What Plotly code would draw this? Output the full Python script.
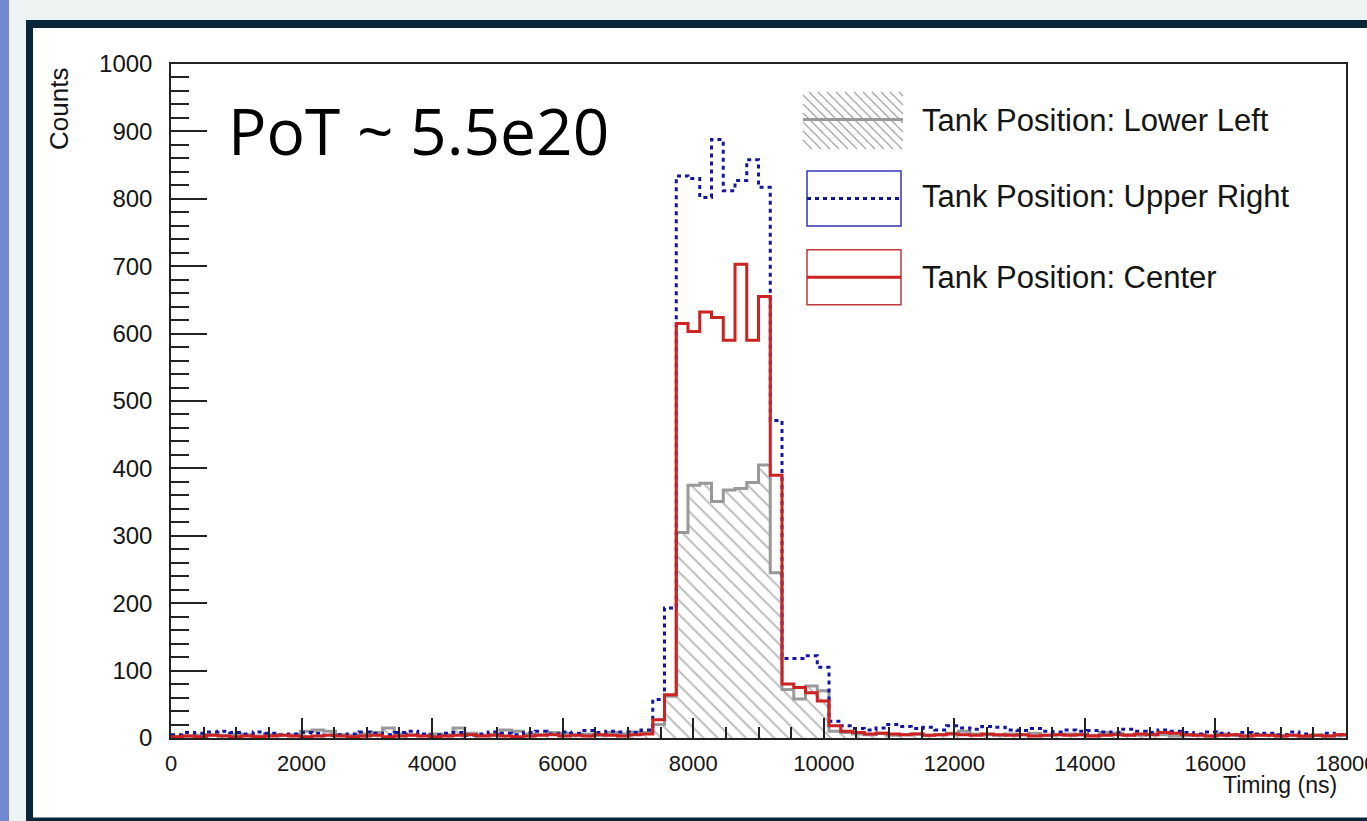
import plotly.graph_objects as go

# ---------------- data ----------------
BIN_WIDTH = 180
N_BINS = 100
bin_edges = [i * BIN_WIDTH for i in range(N_BINS + 1)]
bin_centers = [e + BIN_WIDTH / 2 for e in bin_edges[:-1]]

lower_left = [
    2, 3, 4, 5, 4, 6, 5, 3, 5, 4,
    5, 10, 12, 10, 5, 4, 6, 8, 15, 6,
    5, 4, 6, 5, 15, 7, 4, 5, 12, 10,
    6, 5, 8, 7, 5, 6, 4, 8, 6, 9,
    8, 20, 62,
    305, 375, 378, 351, 368, 370, 379, 405, 245,
    72, 58, 77, 70,
    10, 8, 6, 5, 7, 4, 5, 6, 4, 5,
    7, 10, 6, 5, 4, 6, 5, 7, 4, 5,
    6, 5, 4, 8, 7, 5, 4, 6, 5, 3,
    4, 5, 3, 6, 4, 3, 5, 4, 3, 4, 2, 4, 3, 4,
]
upper_right = [
    5, 8, 7, 9, 10, 8, 6, 9, 7, 5,
    6, 8, 7, 4, 5, 6, 9, 7, 5, 8,
    10, 6, 5, 7, 8, 4, 6, 9, 7, 5,
    8, 10, 6, 9, 7, 11, 8, 10, 9, 8,
    12, 57, 193,
    834, 830, 802, 888, 812, 827, 858, 817, 471,
    118, 118, 122, 105,
    25, 18, 14, 12, 15, 20, 17, 14, 16, 12,
    18, 15, 13, 17, 16, 12, 11, 14, 10, 9,
    12, 10, 11, 9, 8, 13, 10, 8, 12, 10,
    8, 6, 9, 7, 5, 8, 6, 7, 5, 9, 6, 4, 7, 5,
]
center = [
    2, 3, 2, 4, 3, 2, 3, 2, 3, 4,
    3, 2, 3, 4, 3, 2, 3, 4, 2, 3,
    4, 3, 2, 3, 4, 5, 3, 4, 3, 2,
    3, 4, 5, 3, 4, 3, 5, 4, 3, 5,
    6, 27, 64,
    615, 603, 632, 624, 590, 703, 590, 655, 390,
    80, 75, 67, 55,
    18, 10, 8, 6, 7, 6, 5, 6, 4, 5,
    6, 5, 4, 6, 5, 4, 5, 3, 4, 5,
    4, 5, 3, 4, 5, 4, 6, 5, 8, 7,
    5, 4, 3, 4, 5, 3, 4, 4, 3, 4, 3, 4, 3, 5,
]

series_names = ["Tank Position: Lower Left", "Tank Position: Upper Right", "Tank Position: Center"]
x_tick_vals = [0, 2000, 4000, 6000, 8000, 10000, 12000, 14000, 16000, 18000]
y_tick_vals = [0, 100, 200, 300, 400, 500, 600, 700, 800, 900, 1000]
annotation_text = "PoT ~ 5.5e20"
x_title = "Timing (ns)"
y_title = "Counts"

# ---------------- geometry ----------------
W, H = 1367, 821
L, R, T, B = 171, 21, 64, 82.5
PW, PH = W - L - R, H - T - B


def px(x):
    return (x - L) / PW


def py(y):
    return (H - B - y) / PH


GRAY_LINE = "#999999"
BLUE = "#1414a0"
RED = "#cc2222"
TXT = "#151515"

fig = go.Figure()

# hatched fill for lower-left
fig.add_trace(go.Bar(
    x=bin_centers, y=lower_left, width=BIN_WIDTH,
    marker=dict(color="rgba(255,255,255,0)", line=dict(width=0),
                pattern=dict(shape="\\", fgcolor="#7a7a7a", size=10, solidity=0.2)),
    showlegend=False, hoverinfo="skip",
))


def step(vals):
    return list(vals) + [vals[-1]]


fig.add_trace(go.Scatter(x=bin_edges, y=step(lower_left), mode="lines", line_shape="hv",
                         line=dict(color=GRAY_LINE, width=3), name=series_names[0], showlegend=False))
fig.add_trace(go.Scatter(x=bin_edges, y=step(upper_right), mode="lines", line_shape="hv",
                         line=dict(color=BLUE, width=3, dash="4px,4px"), name=series_names[1], showlegend=False))
fig.add_trace(go.Scatter(x=bin_edges, y=step(center), mode="lines", line_shape="hv",
                         line=dict(color=RED, width=3), name=series_names[2], showlegend=False))

shapes = []
# slide background decorations
shapes.append(dict(type="rect", xref="paper", yref="paper", x0=px(0), x1=px(9), y0=py(830), y1=py(-10),
                   fillcolor="#7189d3", line=dict(width=0), layer="below"))
shapes.append(dict(type="rect", xref="paper", yref="paper", x0=px(26), x1=px(1400), y0=py(830), y1=py(20),
                   fillcolor="#0a2739", line=dict(width=0), layer="below"))
shapes.append(dict(type="rect", xref="paper", yref="paper", x0=px(33), x1=px(1400), y0=py(818), y1=py(28),
                   fillcolor="white", line=dict(width=0), layer="below"))

# legend symbol: hatched box
hx0, hx1, hy0, hy1 = 803, 903, 92, 149
hatch_path = ""
c = -(hy1 - hy0)
while c < (hx1 - hx0):
    ya, yb = hy0, hy1
    xa, xb = hx0 + c, hx0 + c + (hy1 - hy0)
    if xa < hx0:
        ya = ya + (hx0 - xa)
        xa = hx0
    if xb > hx1:
        yb = yb - (xb - hx1)
        xb = hx1
    hatch_path += f"M{px(xa)},{py(ya)} L{px(xb)},{py(yb)} "
    c += 9
shapes.append(dict(type="path", xref="paper", yref="paper", path=hatch_path,
                   line=dict(color="#a8a8a8", width=1.3)))
shapes.append(dict(type="line", xref="paper", yref="paper", x0=px(803), x1=px(903), y0=py(119.5), y1=py(119.5),
                   line=dict(color=GRAY_LINE, width=3)))
# blue box
shapes.append(dict(type="rect", xref="paper", yref="paper", x0=px(807), x1=px(901), y0=py(226), y1=py(171),
                   line=dict(color="#3535b5", width=1.5)))
shapes.append(dict(type="line", xref="paper", yref="paper", x0=px(807), x1=px(901), y0=py(198.5), y1=py(198.5),
                   line=dict(color=BLUE, width=3, dash="4px,4px")))
# red box
shapes.append(dict(type="rect", xref="paper", yref="paper", x0=px(807), x1=px(901), y0=py(305), y1=py(250),
                   line=dict(color="#c03838", width=1.5)))
shapes.append(dict(type="line", xref="paper", yref="paper", x0=px(807), x1=px(901), y0=py(277.5), y1=py(277.5),
                   line=dict(color=RED, width=3)))

annotations = []
for name, yc in zip(series_names, [121, 197, 278]):
    annotations.append(dict(xref="paper", yref="paper", x=px(920), y=py(yc), text=name, showarrow=False,
                            xanchor="left", yanchor="middle",
                            font=dict(family="Liberation Sans, Arial", size=31, color=TXT)))
annotations.append(dict(xref="paper", yref="paper", x=px(226), y=py(131), text=annotation_text, showarrow=False,
                        xanchor="left", yanchor="middle",
                        font=dict(family="Open Sans", size=64, color="black")))
annotations.append(dict(xref="paper", yref="paper", x=px(59), y=py(66), text=y_title, showarrow=False,
                        textangle=-90, xanchor="center", yanchor="top",
                        font=dict(family="Liberation Sans, Arial", size=26, color=TXT)))
annotations.append(dict(xref="paper", yref="paper", x=px(1339), y=py(786), text=x_title, showarrow=False,
                        xanchor="right", yanchor="middle",
                        font=dict(family="Liberation Sans, Arial", size=23, color=TXT)))

fig.update_layout(
    width=W, height=H,
    margin=dict(l=L, r=R, t=T, b=B, pad=0, autoexpand=False),
    paper_bgcolor="#edf3f3",
    plot_bgcolor="white",
    bargap=0,
    showlegend=False,
    shapes=shapes,
    annotations=annotations,
    xaxis=dict(range=[0, 18000], tickvals=x_tick_vals, ticktext=[str(v) for v in x_tick_vals],
               ticks="inside", ticklen=20, tickwidth=1.5, tickcolor="#222",
               minor=dict(dtick=500, ticks="inside", ticklen=11, tickwidth=1.5, tickcolor="#222"),
               showline=True, linecolor="#222", linewidth=1.5, mirror=True, showgrid=False, zeroline=False,
               tickfont=dict(family="Liberation Sans, Arial", size=22, color=TXT),
               ticklabeloverflow="allow", ticklabelstandoff=5, automargin=False),
    yaxis=dict(range=[0, 1000], tickvals=y_tick_vals, ticktext=[str(v) for v in y_tick_vals],
               ticks="inside", ticklen=36, tickwidth=1.5, tickcolor="#222",
               minor=dict(dtick=20, ticks="inside", ticklen=18, tickwidth=1.5, tickcolor="#222"),
               showline=True, linecolor="#222", linewidth=1.5, mirror=True, showgrid=False, zeroline=False,
               tickfont=dict(family="Liberation Sans, Arial", size=24, color=TXT),
               ticklabelstandoff=12, automargin=False),
)

fig.write_html("out.html")
